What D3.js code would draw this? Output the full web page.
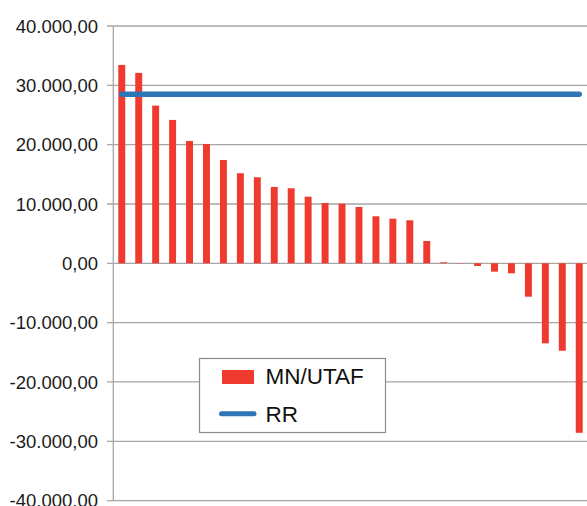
<!DOCTYPE html>
<html>
<head>
<meta charset="utf-8">
<script src="https://cdn.jsdelivr.net/npm/d3@7"></script>
<style>
  body { margin: 0; background: #fff; }
  svg { display: block; font-family: "Liberation Sans", Arial, sans-serif; }
</style>
</head>
<body>
<div id="chart"></div>
<script>
// categories (not labelled in the chart)
const categories = d3.range(1, 29).map(String);
// MN/UTAF values
const mnUtaf = [33440, 32090, 26580, 24170, 20620, 20120, 17420, 15180, 14500, 12870,
  12650, 11230, 10170, 10050, 9490, 7925, 7520, 7250, 3760, 170,
  40, -455, -1410, -1690, -5630, -13490, -14740, -28570];
// RR reference value
const rrValue = 28500;
const yTicks = [-40000, -30000, -20000, -10000, 0, 10000, 20000, 30000, 40000];

const width = 587;
const height = 506;

const svg = d3.select("#chart")
  .append("svg")
  .attr("width", width)
  .attr("height", height);

const x = d3.scaleBand()
  .domain(categories)
  .range([113.3, 587.7])
  .paddingInner(0.59)
  .paddingOuter(0.295);

const y = d3.scaleLinear()
  .domain([-40000, 40000])
  .range([500.6, 26]);

const fmt = v => {
  const s = d3.format(",.2f")(Math.abs(v)).replace(/,/g, "#").replace(".", ",").replace(/#/g, ".");
  return (v < 0 ? "-" : "") + s;
};

// Gridlines
svg.append("g")
  .selectAll("line")
  .data(yTicks)
  .enter()
  .append("line")
  .attr("x1", 107)
  .attr("x2", width)
  .attr("y1", d => y(d))
  .attr("y2", d => y(d))
  .attr("stroke", "#a6a6a6")
  .attr("stroke-width", 1.3);

// Axis line
svg.append("line")
  .attr("x1", 113.3)
  .attr("x2", 113.3)
  .attr("y1", y(40000))
  .attr("y2", y(-40000))
  .attr("stroke", "#a6a6a6")
  .attr("stroke-width", 1.3);

// Tick labels
svg.append("g")
  .selectAll("text")
  .data(yTicks)
  .enter()
  .append("text")
  .attr("x", 98)
  .attr("y", d => y(d))
  .attr("dy", "0.36em")
  .attr("text-anchor", "end")
  .attr("font-size", 18.5)
  .attr("fill", "#1a1a1a")
  .text(d => fmt(d));

// Bars
svg.append("g")
  .selectAll("rect")
  .data(mnUtaf)
  .enter()
  .append("rect")
  .attr("x", (d, i) => x(categories[i]))
  .attr("width", x.bandwidth())
  .attr("y", d => y(Math.max(0, d)))
  .attr("height", d => Math.abs(y(d) - y(0)))
  .attr("fill", "#ef3a2f");

// RR line
const line = d3.line()
  .x(d => x(d) + x.bandwidth() / 2)
  .y(() => y(rrValue));

svg.append("path")
  .datum([categories[0], categories[categories.length - 1]])
  .attr("d", line)
  .attr("fill", "none")
  .attr("stroke", "#2e75b6")
  .attr("stroke-width", 5.5)
  .attr("stroke-linecap", "round");

// Legend
const legend = svg.append("g");
legend.append("rect")
  .attr("x", 199.5)
  .attr("y", 358.5)
  .attr("width", 186)
  .attr("height", 74)
  .attr("fill", "#fff")
  .attr("stroke", "#8c8c8c")
  .attr("stroke-width", 1.2);

legend.append("rect")
  .attr("x", 222)
  .attr("y", 370)
  .attr("width", 32)
  .attr("height", 14)
  .attr("fill", "#ef3a2f");

legend.append("line")
  .attr("x1", 221.5)
  .attr("x2", 254)
  .attr("y1", 413.7)
  .attr("y2", 413.7)
  .attr("stroke", "#2e75b6")
  .attr("stroke-width", 5)
  .attr("stroke-linecap", "round");

legend.append("text")
  .attr("x", 265.5)
  .attr("y", 384)
  .attr("font-size", 22.5)
  .attr("fill", "#111")
  .text("MN/UTAF");

legend.append("text")
  .attr("x", 265.5)
  .attr("y", 421.5)
  .attr("font-size", 22.5)
  .attr("fill", "#111")
  .text("RR");
</script>
</body>
</html>
